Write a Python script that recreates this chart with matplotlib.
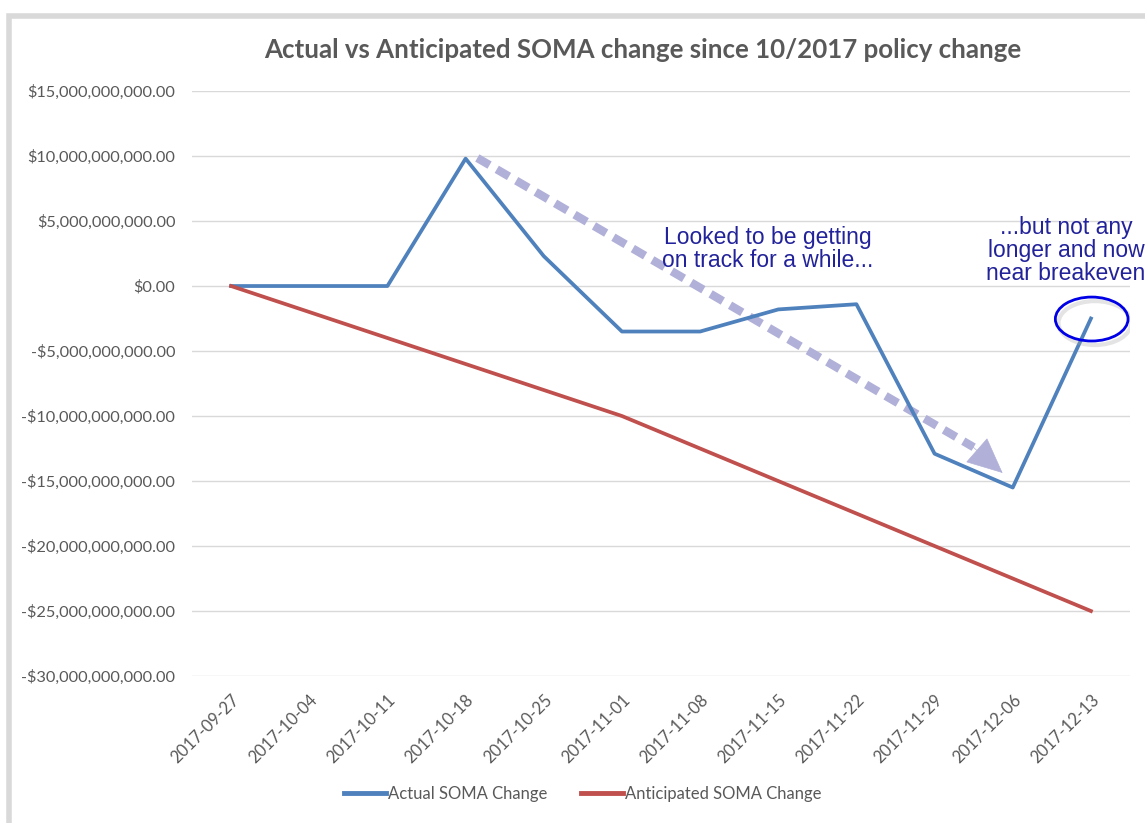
import matplotlib
matplotlib.use('Agg')
import matplotlib.pyplot as plt
from matplotlib.patches import Ellipse, Rectangle
from matplotlib.ticker import FuncFormatter, MultipleLocator

# Weekly dates and SOMA change values (dollars)
dates = ['2017-09-27', '2017-10-04', '2017-10-11', '2017-10-18', '2017-10-25', '2017-11-01',
         '2017-11-08', '2017-11-15', '2017-11-22', '2017-11-29', '2017-12-06', '2017-12-13']
actual = [0, 0, 0, 9.8e9, 2.3e9, -3.5e9, -3.5e9, -1.8e9, -1.4e9, -12.9e9, -15.5e9, -2.5e9]
anticipated = [0, -2e9, -4e9, -6e9, -8e9, -10e9, -12.5e9, -15e9, -17.5e9, -20e9, -22.5e9, -25e9]

grey = '#595959'
plt.rcParams['font.family'] = ['Lato', 'DejaVu Sans']

fig = plt.figure(figsize=(11.45, 8.23), dpi=100)
ax = fig.add_axes([0.1677, 0.1786, 0.8192, 0.7108])

x = range(len(dates))
ax.plot(x, actual, color='#4F81BD', lw=2.7, label='Actual SOMA Change', zorder=3)
ax.plot(x, anticipated, color='#C0504D', lw=2.7, label='Anticipated SOMA Change', zorder=3)

ax.set_xlim(-0.5, len(dates) - 0.5)
ax.set_ylim(-30e9, 15e9)
ax.yaxis.set_major_locator(MultipleLocator(5e9))

def money(v, pos):
    if v < 0:
        return '-${:,.2f}'.format(-v)
    return '${:,.2f}'.format(v)

ax.yaxis.set_major_formatter(FuncFormatter(money))
ax.set_xticks(list(x))
ax.set_xticklabels(dates, rotation=45, ha='right', rotation_mode='anchor')
ax.tick_params(axis='both', length=0, colors=grey)
ax.tick_params(axis='y', pad=12, labelsize=11.8)
ax.tick_params(axis='x', pad=11, labelsize=12)
ax.grid(axis='y', color='#D9D9D9', lw=1)
ax.set_axisbelow(True)
for s in ax.spines.values():
    s.set_visible(False)

fig.text(0.5615, 0.939, 'Actual vs Anticipated SOMA change since 10/2017 policy change',
         ha='center', va='center', fontsize=18.6, fontweight='bold', color=grey)

# dashed trend arrow
arrow_col = '#B0B0D8'
ax.annotate('', xy=(9.5, -12.4e9), xytext=(3.15, 9.85e9),
            arrowprops=dict(arrowstyle='-', color=arrow_col, lw=6,
                            linestyle=(0, (1.7, 1.0)), shrinkA=0, shrinkB=0,
                            capstyle='butt'),
            zorder=2)
ax.annotate('', xy=(9.87, -14.38e9), xytext=(9.4, -11.9e9),
            arrowprops=dict(arrowstyle='-|>,head_length=2.4,head_width=1.1',
                            color=arrow_col, lw=0.5, shrinkA=0, shrinkB=0),
            zorder=2)

note_color = '#22229A'
ax.text(6.87, 2.85e9, 'Looked to be getting\non track for a while...', ha='center', va='center',
        fontsize=16.5, color=note_color, family='Liberation Sans', linespacing=1.05)
ax.text(10.68, 2.75e9, '...but not any\nlonger and now\nnear breakeven', ha='center', va='center',
        fontsize=16.5, color=note_color, family='Liberation Sans', linespacing=1.0,
        clip_on=False)

# highlight ring around the last point, with a soft shadow
ring_shadow = Ellipse((11.05, -2.85e9), 0.93, 3.38e9, fill=False, edgecolor='#A8A8A8',
                      lw=3, alpha=0.3, zorder=4)
ax.add_patch(ring_shadow)
ring = Ellipse((11.01, -2.54e9), 0.93, 3.38e9, fill=False, edgecolor='#0000E6', lw=2, zorder=5)
ax.add_patch(ring)

leg = fig.legend(loc='center', bbox_to_anchor=(0.509, 0.035), ncol=2, frameon=False,
                 fontsize=12, handlelength=2.5, columnspacing=2.0, handletextpad=0.15)
for t in leg.get_texts():
    t.set_color(grey)
for h in leg.get_lines():
    h.set_linewidth(3.5)

# spreadsheet frame
fig.patches.append(Rectangle((8.5 / 1145, -0.1), 1.2, 1 - 15.5 / 823 + 0.1, transform=fig.transFigure,
                             fill=False, edgecolor='#D9D9D9', lw=4, figure=fig))

fig.savefig('out.png', dpi=100)
